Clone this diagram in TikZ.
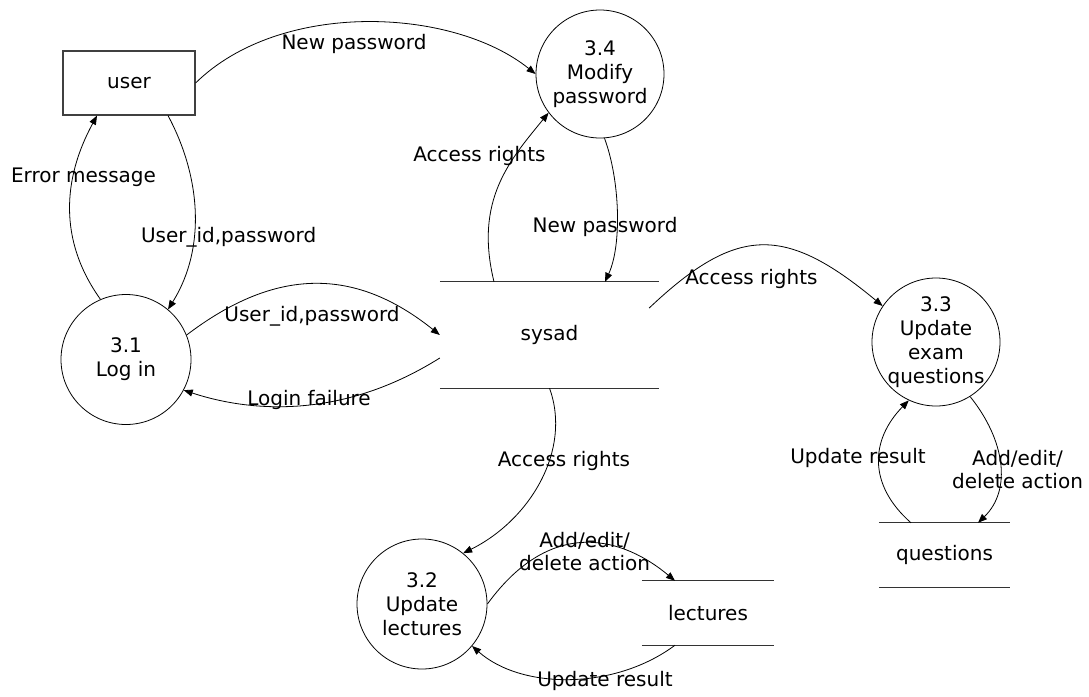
\documentclass[tikz,border=0pt]{standalone}
\usepackage{fontspec}
\setmainfont{DejaVu Sans}
\usetikzlibrary{arrows.meta}
\begin{document}
\begin{tikzpicture}[x=1pt,y=-1pt,
  every node/.style={font=\fontsize{20}{24}\selectfont, inner sep=0pt},
  proc/.style={draw, circle, line width=0.8pt},
  ptext/.style={align=center},
  box/.style={draw=black!75, line width=1.2pt, minimum width=132pt, minimum height=64pt},
  storeline/.style={draw=black!80, line width=1.2pt},
  flow/.style={line width=0.8pt, -{Triangle[length=9pt,width=7pt]}},
  lab/.style={anchor=base},
  lab2/.style={align=center, font=\fontsize{20}{23}\selectfont},
]
\useasboundingbox (0,0) rectangle (1089,696);

% entities and processes
\node[box] (user) at (129,83) {user};
\node[proc, minimum size=128pt] (c34) at (600,74) {};
\node[ptext] (t34) at (c34) {3.4\\Modify\\password};
\node[proc, minimum size=130pt] (c31) at (126,359.5) {};
\node[ptext] (t31) at (c31) {3.1\\Log in};
\node[proc, minimum size=130pt] (c32) at (422,604) {};
\node[ptext] (t32) at (c32) {3.2\\Update\\lectures};
\node[proc, minimum size=128pt] (c33) at (936,342) {};
\node[ptext] (t33) at (c33) {3.3\\Update\\exam\\questions};

% data stores
\node[minimum width=219pt, minimum height=106pt] (sysad) at (549.5,335) {sysad};
\node[minimum width=132pt, minimum height=64pt] (lec) at (708,613) {lectures};
\node[minimum width=131pt, minimum height=64pt] (ques) at (944.5,555) {questions};
\draw[storeline] (sysad.north west) -- (sysad.north east) (sysad.south west) -- (sysad.south east);
\draw[storeline] (lec.north west) -- (lec.north east) (lec.south west) -- (lec.south east);
\draw[storeline] (ques.north west) -- (ques.north east) (ques.south west) -- (ques.south east);

% flows
\draw[flow] (user.east) .. controls (280,0) and (452,7) .. (c34.180);
\draw[flow] (c31.113) .. controls (58,240) and (63,178) .. ([xshift=-32pt]user.south);
\draw[flow] ([xshift=39pt]user.south) .. controls (200,175) and (207,247) .. (c31.50);
\draw[flow] (c31.22) .. controls (276,267) and (355,267) .. (sysad.west);
\draw[flow] ([yshift=-23pt]sysad.west) .. controls (341,420) and (250,412) .. (c31.-28);
\draw[flow] ([xshift=-55.5pt]sysad.north) .. controls (474,200) and (510,160) .. (c34.217);
\draw[flow] (c34.274) .. controls (620,180) and (622,245) .. ([xshift=55.5pt]sysad.north);
\draw[flow] ([xshift=-10pt,yshift=27pt]sysad.east) .. controls (737,225) and (785,225) .. (c33.146);
\draw[flow] (sysad.south) .. controls (572,450) and (530,520) .. (c32.51);
\draw[flow] (c32.0) .. controls (553,514) and (625,539) .. ([xshift=-33pt]lec.north);
\draw[flow] ([xshift=-33pt]lec.south) .. controls (615,690) and (522,690) .. (c32.-40);
\draw[flow] ([xshift=-33.5pt]ques.north) .. controls (868,485) and (870,440) .. (c33.245);
\draw[flow] (c33.-58) .. controls (1005,440) and (1012,490) .. ([xshift=33.5pt]ques.north);

% flow labels
\node[lab] (l1) at (354,49) {New password};
\node[lab] (l2) at (83.5,182) {Error message};
\node[lab] (l3) at (228.6,242) {User\_id,password};
\node[lab] (l4) at (479.5,161.7) {Access rights};
\node[lab] (l5) at (605,232) {New password};
\node[lab] (l6) at (312,321) {User\_id,password};
\node[lab] (l7) at (309,405.7) {Login failure};
\node[lab] (l8) at (751.5,284.3) {Access rights};
\node[lab] (l9) at (564,466.7) {Access rights};
\node[lab2] (l10) at (584.6,551.4) {Add/edit/\\delete action};
\node[lab] (l11) at (605,686.7) {Update result};
\node[lab] (l12) at (858,463.3) {Update result};
\node[lab2] (l13) at (1017.5,470) {Add/edit/\\delete action};
\end{tikzpicture}
\end{document}
